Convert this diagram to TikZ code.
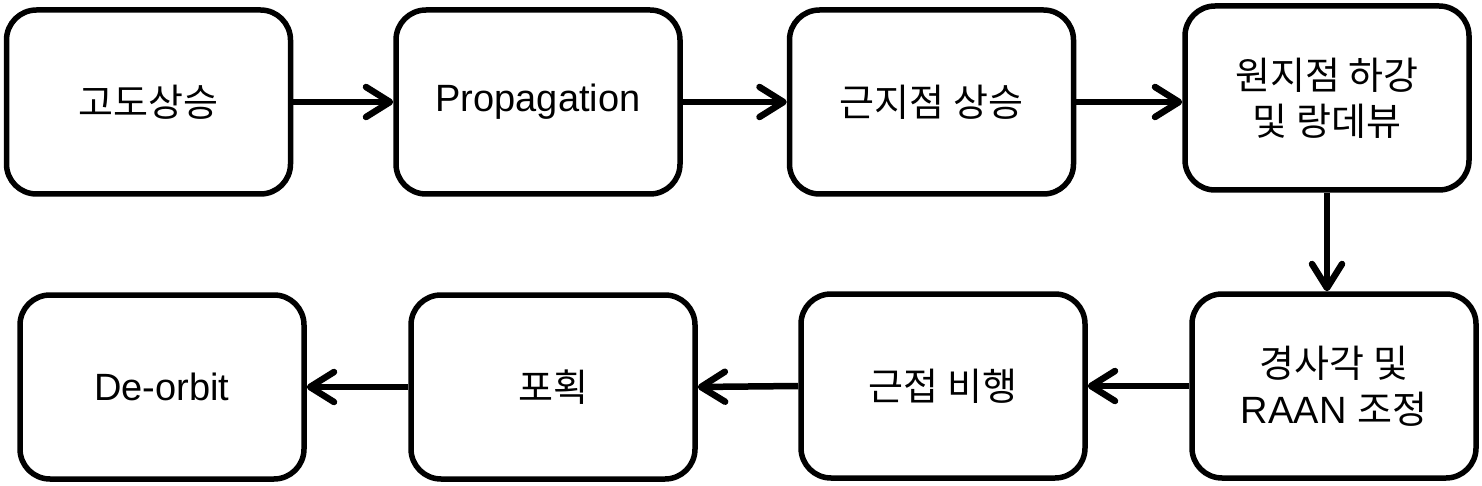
\documentclass[tikz,border=0pt]{standalone}
\usepackage{fontspec}
\setmainfont{Liberation Sans}
\newfontfamily\krfont{Noto Sans CJK KR}
\newcommand{\kr}[1]{{\krfont #1}}
\usetikzlibrary{arrows.meta}
\tikzset{
  stepbox/.style={draw=black, line width=5.5pt, rounded corners=30pt, fill=white,
    minimum width=284pt, minimum height=184pt, inner sep=0pt, align=center,
    font=\fontsize{38}{46}\selectfont},
  flow/.style={line width=6.5pt, -{Straight Barb[length=24pt, width=30pt, round]}}
}
\begin{document}
\begin{tikzpicture}[x=1pt, y=-1pt]
\useasboundingbox (0,0) rectangle (1482,486);
\node[stepbox] (b1) at (148.5,102) {\kr{고도상승}};
\node[stepbox] (b2) at (538,102) {Propagation};
\node[stepbox] (b3) at (931.5,102) {\kr{근지점 상승}};
\node[stepbox] (b4) at (1327,98) {\kr{원지점 하강}\\\kr{및 랑데뷰}};
\node[stepbox] (b8) at (1334,386) {\kr{경사각 및}\\RAAN \kr{조정}};
\node[stepbox] (b7) at (943,386) {\kr{근접 비행}};
\node[stepbox] (b6) at (553,387) {\kr{포획}};
\node[stepbox] (b5) at (162,387) {De-orbit};
\draw[flow] (b1.east) -- (b2.west);
\draw[flow] (b2.east) -- (b3.west);
\draw[flow] (b3.east) -- (b3.east -| b4.west);
\draw[flow] (b4.south) -- (b4.south |- b8.north);
\draw[flow] (b8.west) -- (b7.east);
\draw[flow] (b7.west) -- (b6.east);
\draw[flow] (b6.west) -- (b5.east);
\end{tikzpicture}
\end{document}
